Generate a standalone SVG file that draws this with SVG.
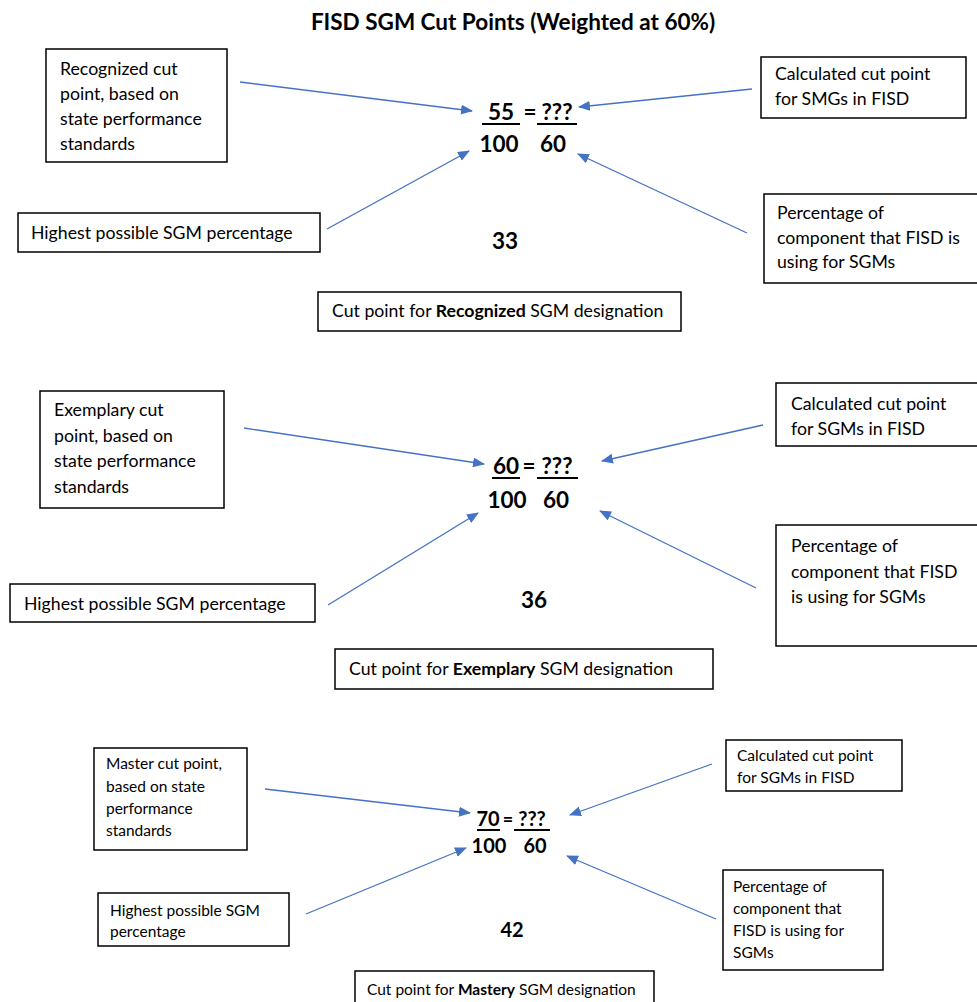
<svg xmlns="http://www.w3.org/2000/svg" width="977" height="1002" viewBox="0 0 977 1002">
<defs>
<marker id="ah" markerWidth="12" markerHeight="10" refX="11" refY="5" orient="auto" markerUnits="userSpaceOnUse">
<path d="M0,0 L12,5 L0,10 Z" fill="#4472C4"/>
</marker>
<style>
.t{font-family:Lato,"Open Sans","Liberation Sans",sans-serif;font-size:17.7px;fill:#000}
.s{font-size:15.5px}
.b{font-weight:bold}
.eq{font-family:Lato,"Open Sans","Liberation Sans",sans-serif;font-size:22.5px;font-weight:bold;fill:#000}
.eq3{font-size:20px}
.box{fill:#fff;stroke:#000;stroke-width:1.5}
.ul{stroke:#000;stroke-width:2}
.ar{stroke:#4472C4;stroke-width:1.3;fill:none;marker-end:url(#ah)}
</style>
</defs>
<rect width="977" height="1002" fill="#fff"/>
<text class="t b" x="513" y="30" text-anchor="middle" style="font-size:22.5px">FISD SGM Cut Points (Weighted at 60%)</text>

<g id="connectors">
<line class="ar" x1="240" y1="82" x2="472" y2="111"/>
<line class="ar" x1="752" y1="89" x2="579" y2="107"/>
<line class="ar" x1="327" y1="229" x2="469" y2="151"/>
<line class="ar" x1="747" y1="233" x2="578" y2="154"/>
<line class="ar" x1="244" y1="428" x2="484" y2="464"/>
<line class="ar" x1="763" y1="425" x2="602" y2="461"/>
<line class="ar" x1="328" y1="605" x2="478" y2="513"/>
<line class="ar" x1="756" y1="588" x2="600" y2="511"/>
<line class="ar" x1="265" y1="789" x2="470" y2="813"/>
<line class="ar" x1="712" y1="764" x2="570" y2="815"/>
<line class="ar" x1="306" y1="914" x2="466" y2="848"/>
<line class="ar" x1="716" y1="919" x2="567" y2="856"/>
</g>

<!-- Section 1 -->
<g id="s1-state">
<rect class="box" x="46" y="49" width="181" height="113"/>
<text class="t" x="60" y="75">Recognized cut</text>
<text class="t" x="60" y="100">point, based on</text>
<text class="t" x="60" y="125">state performance</text>
<text class="t" x="60" y="150">standards</text>
</g>
<g id="s1-calc">
<rect class="box" x="761" y="57" width="205" height="61"/>
<text class="t" x="775" y="80">Calculated cut point</text>
<text class="t" x="775" y="105">for SMGs in FISD</text>
</g>
<g id="s1-high">
<rect class="box" x="18" y="213" width="302" height="39"/>
<text class="t" x="31" y="239">Highest possible SGM percentage</text>
</g>
<g id="s1-pct">
<rect class="box" x="764" y="194" width="216" height="89"/>
<text class="t" x="777" y="219">Percentage of</text>
<text class="t" x="777" y="244">component that FISD is</text>
<text class="t" x="777" y="268">using for SGMs</text>
</g>
<g id="s1-cut">
<rect class="box" x="318" y="292" width="363" height="39"/>
<text class="t" x="332" y="317">Cut point for <tspan class="b">Recognized</tspan> SGM designation</text>
</g>
<g id="s1-eq">
<text class="eq" x="501" y="120" text-anchor="middle">55</text>
<line class="ul" x1="482" y1="124" x2="520" y2="124"/>
<text class="eq" x="530" y="120" text-anchor="middle">=</text>
<text class="eq" x="557" y="120" text-anchor="middle">???</text>
<line class="ul" x1="537" y1="124" x2="577" y2="124"/>
<text class="eq" x="499" y="152" text-anchor="middle">100</text>
<text class="eq" x="553" y="152" text-anchor="middle">60</text>
<text class="eq" x="505" y="249" text-anchor="middle">33</text>
</g>

<!-- Section 2 -->
<g id="s2-state">
<rect class="box" x="40" y="391" width="184" height="117"/>
<text class="t" x="54" y="416">Exemplary cut</text>
<text class="t" x="54" y="442">point, based on</text>
<text class="t" x="54" y="467">state performance</text>
<text class="t" x="54" y="493">standards</text>
</g>
<g id="s2-calc">
<rect class="box" x="776" y="383" width="204" height="63"/>
<text class="t" x="791" y="410">Calculated cut point</text>
<text class="t" x="791" y="435">for SGMs in FISD</text>
</g>
<g id="s2-high">
<rect class="box" x="10" y="584" width="305" height="38"/>
<text class="t" x="24" y="610">Highest possible SGM percentage</text>
</g>
<g id="s2-pct">
<rect class="box" x="776" y="525" width="204" height="121"/>
<text class="t" x="791" y="552">Percentage of</text>
<text class="t" x="791" y="578">component that FISD</text>
<text class="t" x="791" y="603">is using for SGMs</text>
</g>
<g id="s2-cut">
<rect class="box" x="335" y="649" width="378" height="40"/>
<text class="t" x="349" y="675">Cut point for <tspan class="b">Exemplary</tspan> SGM designation</text>
</g>
<g id="s2-eq">
<text class="eq" x="506" y="474" text-anchor="middle">60</text>
<line class="ul" x1="492" y1="478" x2="520" y2="478"/>
<text class="eq" x="529" y="474" text-anchor="middle">=</text>
<text class="eq" x="557" y="474" text-anchor="middle">???</text>
<line class="ul" x1="537" y1="478" x2="578" y2="478"/>
<text class="eq" x="507" y="508" text-anchor="middle">100</text>
<text class="eq" x="556" y="508" text-anchor="middle">60</text>
<text class="eq" x="534" y="608" text-anchor="middle">36</text>
</g>

<!-- Section 3 -->
<g id="s3-state">
<rect class="box" x="94" y="748" width="153" height="102"/>
<text class="t s" x="106" y="769">Master cut point,</text>
<text class="t s" x="106" y="792">based on state</text>
<text class="t s" x="106" y="814">performance</text>
<text class="t s" x="106" y="836">standards</text>
</g>
<g id="s3-calc">
<rect class="box" x="726" y="740" width="176" height="51"/>
<text class="t s" x="737" y="761">Calculated cut point</text>
<text class="t s" x="737" y="783">for SGMs in FISD</text>
</g>
<g id="s3-high">
<rect class="box" x="98" y="893" width="191" height="53"/>
<text class="t s" x="110" y="916">Highest possible SGM</text>
<text class="t s" x="110" y="937">percentage</text>
</g>
<g id="s3-pct">
<rect class="box" x="723" y="870" width="160" height="100"/>
<text class="t s" x="733" y="892">Percentage of</text>
<text class="t s" x="733" y="914">component that</text>
<text class="t s" x="733" y="936">FISD is using for</text>
<text class="t s" x="733" y="958">SGMs</text>
</g>
<g id="s3-cut">
<rect class="box" x="355" y="971" width="299" height="40"/>
<text class="t s" x="367" y="995">Cut point for <tspan class="b">Mastery</tspan> SGM designation</text>
</g>
<g id="s3-eq">
<text class="eq eq3" x="488" y="826" text-anchor="middle">70</text>
<line class="ul" x1="477" y1="830" x2="500" y2="830"/>
<text class="eq eq3" x="508" y="826" text-anchor="middle" style="font-size:18px">=</text>
<text class="eq eq3" x="532" y="826" text-anchor="middle">???</text>
<line class="ul" x1="514" y1="830" x2="550" y2="830"/>
<text class="eq eq3" x="489" y="853" text-anchor="middle">100</text>
<text class="eq eq3" x="535" y="853" text-anchor="middle">60</text>
<text class="eq eq3" x="512" y="937" text-anchor="middle">42</text>
</g>
</svg>
